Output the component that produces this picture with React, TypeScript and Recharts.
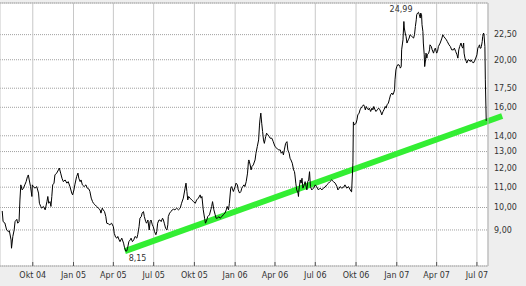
import {
  LineChart,
  Line,
  XAxis,
  YAxis,
  CartesianGrid,
  ReferenceLine,
  ReferenceDot,
} from "recharts";

// closing prices (one line per month)
const dates = [
  "2004-07-24", "2004-07-26", "2004-07-30",
  "2004-08-03", "2004-08-07", "2004-08-09", "2004-08-13", "2004-08-14", "2004-08-17", "2004-08-20", "2004-08-22", "2004-08-26", "2004-08-28", "2004-08-31",
  "2004-09-02", "2004-09-04", "2004-09-07", "2004-09-10", "2004-09-13", "2004-09-16", "2004-09-19", "2004-09-21", "2004-09-23", "2004-09-26", "2004-09-29", "2004-09-30",
  "2004-10-02", "2004-10-06", "2004-10-10", "2004-10-14", "2004-10-16", "2004-10-19", "2004-10-21", "2004-10-25", "2004-10-29",
  "2004-11-02", "2004-11-04", "2004-11-06", "2004-11-09", "2004-11-11", "2004-11-13", "2004-11-15", "2004-11-18", "2004-11-20", "2004-11-24", "2004-11-28", "2004-11-30",
  "2004-12-03", "2004-12-06", "2004-12-09", "2004-12-13", "2004-12-17", "2004-12-20", "2004-12-24", "2004-12-28", "2004-12-30",
  "2005-01-02", "2005-01-04", "2005-01-08", "2005-01-11", "2005-01-13", "2005-01-16", "2005-01-18", "2005-01-21", "2005-01-25", "2005-01-29",
  "2005-02-01", "2005-02-05", "2005-02-07", "2005-02-10", "2005-02-13", "2005-02-15", "2005-02-19", "2005-02-22", "2005-02-26",
  "2005-03-02", "2005-03-04", "2005-03-07", "2005-03-09", "2005-03-12", "2005-03-15", "2005-03-17", "2005-03-21", "2005-03-24", "2005-03-28",
  "2005-04-01", "2005-04-03", "2005-04-06", "2005-04-09", "2005-04-11", "2005-04-14", "2005-04-16", "2005-04-20", "2005-04-24", "2005-04-26", "2005-04-29",
  "2005-05-01", "2005-05-03", "2005-05-06", "2005-05-09", "2005-05-11", "2005-05-14", "2005-05-17", "2005-05-20", "2005-05-24", "2005-05-26", "2005-05-29", "2005-05-31",
  "2005-06-03", "2005-06-05", "2005-06-08", "2005-06-10", "2005-06-13", "2005-06-15", "2005-06-18", "2005-06-21", "2005-06-23", "2005-06-25", "2005-06-28", "2005-06-30",
  "2005-07-03", "2005-07-06", "2005-07-08", "2005-07-10", "2005-07-13", "2005-07-15", "2005-07-18", "2005-07-21", "2005-07-23", "2005-07-25", "2005-07-28", "2005-07-31",
  "2005-08-02", "2005-08-03", "2005-08-06", "2005-08-09", "2005-08-12", "2005-08-15", "2005-08-18", "2005-08-22", "2005-08-26", "2005-08-30",
  "2005-09-02", "2005-09-06", "2005-09-10", "2005-09-12", "2005-09-14", "2005-09-16", "2005-09-18", "2005-09-21", "2005-09-25", "2005-09-29",
  "2005-10-03", "2005-10-06", "2005-10-10", "2005-10-14", "2005-10-16", "2005-10-18", "2005-10-21", "2005-10-24", "2005-10-26", "2005-10-29", "2005-10-31",
  "2005-11-04", "2005-11-07", "2005-11-09", "2005-11-11", "2005-11-14", "2005-11-17", "2005-11-19", "2005-11-22", "2005-11-25", "2005-11-28",
  "2005-12-02", "2005-12-05", "2005-12-09", "2005-12-12", "2005-12-14", "2005-12-17", "2005-12-19", "2005-12-22", "2005-12-24", "2005-12-28",
  "2006-01-01", "2006-01-03", "2006-01-06", "2006-01-08", "2006-01-11", "2006-01-14", "2006-01-16", "2006-01-18", "2006-01-21", "2006-01-23", "2006-01-26", "2006-01-29", "2006-01-31",
  "2006-02-01", "2006-02-04", "2006-02-06", "2006-02-08", "2006-02-11", "2006-02-15", "2006-02-17", "2006-02-20", "2006-02-23", "2006-02-25", "2006-02-26", "2006-02-28",
  "2006-03-02", "2006-03-04", "2006-03-06", "2006-03-08", "2006-03-11", "2006-03-13", "2006-03-16", "2006-03-19", "2006-03-21", "2006-03-25", "2006-03-28",
  "2006-04-01", "2006-04-05", "2006-04-09", "2006-04-13", "2006-04-15", "2006-04-18", "2006-04-20", "2006-04-22", "2006-04-25", "2006-04-28", "2006-04-30",
  "2006-05-03", "2006-05-05", "2006-05-07", "2006-05-10", "2006-05-13", "2006-05-15", "2006-05-16", "2006-05-18", "2006-05-20", "2006-05-23", "2006-05-24", "2006-05-25", "2006-05-28", "2006-05-30",
  "2006-06-01", "2006-06-03", "2006-06-06", "2006-06-08", "2006-06-12", "2006-06-14", "2006-06-16", "2006-06-18", "2006-06-20", "2006-06-23", "2006-06-27",
  "2006-07-01", "2006-07-04", "2006-07-08", "2006-07-12", "2006-07-16", "2006-07-19", "2006-07-23", "2006-07-27", "2006-07-31",
  "2006-08-03", "2006-08-07", "2006-08-11", "2006-08-15", "2006-08-19", "2006-08-21", "2006-08-24", "2006-08-26", "2006-08-30",
  "2006-09-03", "2006-09-06", "2006-09-10", "2006-09-14", "2006-09-18", "2006-09-20", "2006-09-21", "2006-09-24", "2006-09-25", "2006-09-27",
  "2006-10-01", "2006-10-03", "2006-10-05", "2006-10-08", "2006-10-10", "2006-10-12", "2006-10-15", "2006-10-18", "2006-10-20", "2006-10-22", "2006-10-24", "2006-10-26", "2006-10-29", "2006-10-31",
  "2006-11-03", "2006-11-06", "2006-11-08", "2006-11-10", "2006-11-13", "2006-11-15", "2006-11-18", "2006-11-21", "2006-11-24", "2006-11-27", "2006-11-28",
  "2006-12-01", "2006-12-03", "2006-12-06", "2006-12-08", "2006-12-10", "2006-12-13", "2006-12-15", "2006-12-18", "2006-12-21", "2006-12-23", "2006-12-25", "2006-12-27", "2006-12-28", "2006-12-30",
  "2007-01-01", "2007-01-03", "2007-01-06", "2007-01-08", "2007-01-09", "2007-01-11", "2007-01-12", "2007-01-14", "2007-01-15", "2007-01-17", "2007-01-18", "2007-01-20", "2007-01-22", "2007-01-24", "2007-01-27", "2007-01-29", "2007-01-31",
  "2007-02-04", "2007-02-08", "2007-02-10", "2007-02-12", "2007-02-14", "2007-02-15", "2007-02-17", "2007-02-19", "2007-02-21", "2007-02-23", "2007-02-24", "2007-02-26", "2007-02-27",
  "2007-03-01", "2007-03-02", "2007-03-04", "2007-03-05", "2007-03-07", "2007-03-08", "2007-03-10", "2007-03-11", "2007-03-14", "2007-03-16", "2007-03-17", "2007-03-20", "2007-03-22", "2007-03-25", "2007-03-27", "2007-03-29",
  "2007-04-01", "2007-04-03", "2007-04-05", "2007-04-09", "2007-04-13", "2007-04-15", "2007-04-17", "2007-04-20", "2007-04-23", "2007-04-25", "2007-04-29",
  "2007-05-02", "2007-05-05", "2007-05-09", "2007-05-11", "2007-05-14", "2007-05-17", "2007-05-19", "2007-05-21", "2007-05-23", "2007-05-26", "2007-05-28", "2007-05-30",
  "2007-06-01", "2007-06-02", "2007-06-04", "2007-06-07", "2007-06-08", "2007-06-11", "2007-06-13", "2007-06-16", "2007-06-18", "2007-06-20", "2007-06-23", "2007-06-27",
  "2007-07-01", "2007-07-03", "2007-07-05", "2007-07-07", "2007-07-08", "2007-07-10", "2007-07-11", "2007-07-13", "2007-07-14", "2007-07-16", "2007-07-17", "2007-07-19", "2007-07-20", "2007-07-22",
];

const closes = [
  9.84, 9.36, 9.3,
  9.0, 8.93, 8.97, 8.59, 8.26, 8.73, 9.0, 9.36, 9.46, 9.29, 9.36,
  10.36, 11.12, 10.86, 10.95, 11.12, 11.29, 11.56, 11.65, 11.38, 11.03, 10.53, 11.12,
  11.03, 10.95, 11.03, 10.7, 10.2, 10.05, 9.97, 10.05, 9.89,
  10.28, 10.53, 10.2, 10.28, 10.05, 10.53, 11.12, 11.21, 11.65, 11.75, 11.93, 12.03,
  11.75, 11.47, 11.29, 11.38, 11.21, 11.29, 11.03, 10.7, 10.61,
  10.86, 11.12, 11.56, 11.75, 11.47, 11.29, 11.38, 11.12, 11.03, 11.12,
  10.95, 10.9, 10.78, 10.45, 10.28, 10.2, 10.12, 10.05, 9.97,
  9.89, 9.74, 9.97, 9.89, 9.81, 9.58, 9.29, 9.26, 9.22, 9.29,
  9.14, 8.86, 8.7, 8.66, 8.73, 8.59, 8.52, 8.66, 8.46, 8.3, 8.15,
  8.15, 8.26, 8.52, 8.59, 8.66, 8.52, 8.59, 8.73, 8.66, 8.8, 9.14, 9.51,
  9.58, 9.74, 9.81, 9.58, 9.36, 9.29, 9.43, 9.0, 9.36, 9.43, 9.22, 9.14,
  8.93, 8.8, 8.93, 9.29, 9.43, 9.43, 9.36, 9.51, 9.43, 9.29, 9.07, 9.0,
  9.22, 9.58, 9.74, 9.81, 9.89, 9.92, 9.89, 9.97, 9.89, 9.97,
  10.2, 10.45, 10.95, 11.21, 10.78, 10.36, 10.53, 10.45, 10.36, 10.28,
  10.2, 10.36, 10.45, 10.61, 10.45, 10.53, 9.89, 9.51, 9.29, 9.43, 9.58,
  9.66, 9.89, 10.05, 10.28, 9.89, 9.66, 9.51, 9.51, 9.58, 9.51,
  9.58, 9.66, 9.74, 9.89, 10.05, 9.89, 10.2, 10.95, 11.03, 10.78,
  11.03, 11.21, 11.12, 10.86, 10.7, 10.78, 10.95, 11.03, 11.12, 11.03, 11.29, 11.75, 12.4,
  12.5, 12.21, 11.93, 12.12, 12.21, 12.5, 12.9, 13.31, 13.73, 14.72, 15.08, 15.57,
  14.85, 14.28, 13.73, 13.51, 13.95, 14.17, 14.06, 13.95, 13.84, 13.84, 13.62,
  13.31, 13.21, 13.1, 13.1, 12.9, 13.0, 12.8, 13.1, 13.51, 13.62, 13.1,
  12.9, 12.6, 12.5, 12.31, 11.93, 11.83, 11.65, 11.21, 10.86, 10.7, 10.53, 10.86, 11.38, 11.21,
  11.47, 10.95, 11.12, 11.29, 10.86, 11.29, 11.38, 11.83, 11.03, 10.86, 10.95,
  11.12, 11.03, 10.86, 10.95, 10.86, 10.95, 11.0, 11.12, 11.21,
  11.29, 11.38, 11.29, 11.21, 11.03, 10.86, 10.95, 11.03, 10.95,
  11.0, 11.12, 10.95, 11.03, 10.86, 10.78, 10.76, 12.33, 14.94, 14.72,
  14.85, 15.08, 15.44, 15.57, 15.81, 15.94, 16.06, 16.19, 16.06, 15.81, 16.06, 15.94, 15.81, 15.94,
  15.69, 15.94, 15.81, 16.06, 15.81, 15.69, 15.81, 15.94, 15.81, 15.57, 15.44,
  15.69, 15.81, 16.06, 15.94, 16.19, 16.32, 16.57, 16.97, 17.11, 16.97, 17.11, 17.37, 18.2, 19.07,
  19.37, 19.53, 19.53, 19.37, 19.23, 19.37, 20.95, 21.63, 21.96, 23.93, 23.21, 22.67, 22.31, 21.63, 21.96, 22.14, 22.49,
  22.31, 22.14, 22.49, 23.38, 24.12, 24.7, 24.9, 24.99, 24.7, 24.32, 24.9, 24.7, 23.57,
  22.84, 21.63, 20.47, 19.37, 19.99, 20.63, 20.15, 20.47, 20.63, 20.95, 21.45, 21.28, 20.95, 20.63, 20.95, 21.12,
  20.63, 20.79, 21.28, 21.63, 22.14, 22.49, 22.31, 22.14, 21.96, 21.79, 21.45,
  21.28, 20.95, 20.95, 21.12, 20.79, 20.47, 20.15, 20.95, 21.28, 21.63, 21.28, 21.12,
  21.63, 20.63, 20.15, 19.83, 19.69, 19.99, 19.99, 19.83, 19.99, 19.83, 19.69, 19.99,
  20.47, 21.12, 21.28, 21.45, 21.12, 21.12, 21.28, 21.79, 22.31, 22.67, 22.49, 21.28, 18.2, 15.01,
];

const xStart = "2004-07-19";
const xEnd = "2007-07-26";
const xTickDates = [
  "2004-10-01", "2005-01-01", "2005-04-01", "2005-07-01", "2005-10-01", "2006-01-01",
  "2006-04-01", "2006-07-01", "2006-10-01", "2007-01-01", "2007-04-01", "2007-07-01",
];
const xTickLabels = [
  "Okt 04", "Jan 05", "Apr 05", "Jul 05", "Okt 05", "Jan 06",
  "Apr 06", "Jul 06", "Okt 06", "Jan 07", "Apr 07", "Jul 07",
];
const yTicks = [9, 10, 11, 12, 13, 14, 16, 17.5, 20, 22.5];
const yMin = 7.6;
const yMax = 26.1;

const lowDate = "2005-05-01";
const lowValue = 8.15;
const highDate = "2007-02-19";
const highValue = 24.99;

// support line drawn from the low
const trendStart = { date: "2005-04-27", value: 8.15 };
const trendEnd = { date: "2007-08-27", value: 15.36 };

const FONT = "DejaVu Sans";
const ts = (d: string) => Date.parse(d);
const fmt = (v: number) => v.toFixed(2).replace(".", ",");

const data = dates.map((d, i) => ({ t: ts(d), close: closes[i] }));

function DateTick({ x, y, payload }: any) {
  const i = xTickDates.findIndex((d) => ts(d) === payload.value);
  return (
    <g>
      <line x1={x} x2={x} y1={y - 4} y2={y} stroke="#555" />
      <text x={x} y={y + 12} textAnchor="middle" fill="#333" fontSize={8} fontFamily={FONT}>
        {xTickLabels[i]}
      </text>
    </g>
  );
}

const lowLabel = (props: any) => {
  const vb = props.viewBox || props;
  return (
    <text x={vb.x + 2} y={vb.y + 10} fill="#333" fontSize={8} fontFamily={FONT}>
      {fmt(lowValue)}
    </text>
  );
};

const highLabel = (props: any) => {
  const vb = props.viewBox || props;
  return (
    <text x={vb.x - 6} y={vb.y} textAnchor="end" fill="#333" fontSize={8} fontFamily={FONT}>
      {fmt(highValue)}
    </text>
  );
};

export default function App() {
  return (
    <div style={{ position: "absolute", left: 0, top: 0, width: 526, height: 286, background: "#eeeeee" }}>
      <LineChart width={526} height={286} data={data} margin={{ top: 3, right: 0, bottom: 0, left: 0 }}>
        <CartesianGrid vertical={false} stroke="#a0a0a0" strokeDasharray="1 1" fill="#ffffff" />
        <CartesianGrid horizontal={false} stroke="#c8c8c8" />
        <XAxis
          dataKey="t"
          type="number"
          domain={[ts(xStart), ts(xEnd)]}
          allowDataOverflow
          ticks={xTickDates.map(ts)}
          interval={0}
          height={20}
          tickSize={0}
          tickMargin={0}
          tickLine={false}
          axisLine={{ stroke: "#bbbbbb" }}
          tick={<DateTick />}
        />
        <YAxis
          orientation="right"
          scale="log"
          type="number"
          domain={[yMin, yMax]}
          allowDataOverflow
          ticks={yTicks}
          interval={0}
          width={38}
          tickSize={0}
          tickMargin={6}
          tickLine={false}
          axisLine={{ stroke: "#bbbbbb" }}
          tick={{ fill: "#333", fontSize: 8, fontFamily: FONT }}
          tickFormatter={fmt}
        />
        <ReferenceLine y={yMax} stroke="#bbbbbb" />
        <ReferenceLine
          segment={[
            { x: ts(trendStart.date), y: trendStart.value },
            { x: ts(trendEnd.date), y: trendEnd.value },
          ]}
          stroke="#33ee33"
          strokeWidth={6}
          ifOverflow="visible"
        />
        <Line
          dataKey="close"
          stroke="#000"
          strokeWidth={1}
          dot={false}
          activeDot={false}
          isAnimationActive={false}
        />
        <ReferenceDot x={ts(lowDate)} y={lowValue} r={0} fill="none" stroke="none" label={lowLabel} />
        <ReferenceDot x={ts(highDate)} y={highValue} r={0} fill="none" stroke="none" label={highLabel} />
      </LineChart>
    </div>
  );
}
